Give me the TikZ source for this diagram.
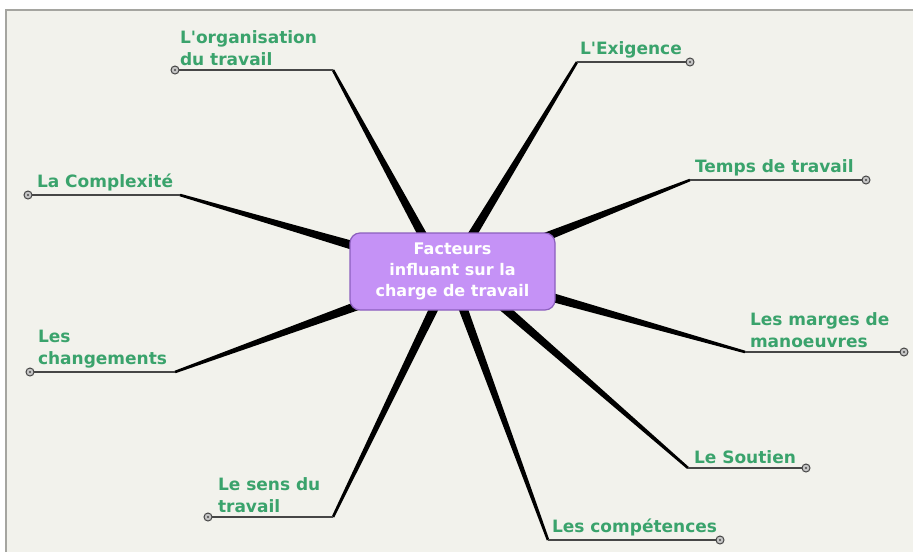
\documentclass[tikz,border=0pt]{standalone}
\usepackage{fontspec}
\setmainfont[Ligatures=TeXOff]{DejaVu Sans}
\usetikzlibrary{calc}
\pgfdeclarelayer{back}
\pgfdeclarelayer{bg}
\pgfsetlayers{back,bg,main}
\definecolor{paper}{RGB}{242,242,236}
\definecolor{framec}{RGB}{165,165,160}
\definecolor{lblgreen}{RGB}{58,163,108}
\definecolor{boxfill}{RGB}{197,146,246}
\definecolor{boxdraw}{RGB}{140,95,190}
\definecolor{thinline}{RGB}{70,70,70}
\tikzset{
  lbl/.style={anchor=south west, text=lblgreen, font=\fontsize{17}{22}\selectfont\bfseries, align=left, inner sep=0pt, outer sep=0pt},
  centerbox/.style={draw=boxdraw, line width=1.2pt, fill=boxfill, rounded corners=10pt, minimum width=205pt, minimum height=77pt, text=white, font=\fontsize{16}{21}\selectfont\bfseries, align=center, inner sep=0pt},
  thick branch/.style={fill=black},
  leaf line/.style={draw=thinline, line width=1.8pt},
  endcirc/.style={circle, draw=thinline, fill=gray!45, line width=1pt, minimum size=8pt, inner sep=0pt},
}
\newcommand\mmbranch[3]{%
  \begin{pgfonlayer}{bg}
  \fill[thick branch] ($(#1)!4.6pt!90:(#2)$) -- ($(#2)!1.3pt!-90:(#1)$) -- ($(#2)!1.3pt!90:(#1)$) -- ($(#1)!4.6pt!-90:(#2)$) -- cycle;
  \draw[leaf line] (#2) -- (#3);
  \end{pgfonlayer}
}
\begin{document}
\begin{tikzpicture}[x=1pt,y=-1pt]
\useasboundingbox (0,0) rectangle (913,552);
\begin{pgfonlayer}{back}
\fill[white] (0,0) rectangle (913,552);
\fill[paper] (6,10) rectangle (913,552);
\draw[framec, line width=2pt] (6,552) -- (6,10) -- (913,10);
\end{pgfonlayer}

\node[centerbox] (fc) at (452.5,271.5) {Facteurs\\influant sur la\\charge de travail};

% coordinates: start (inside box), elbow, end
\coordinate (s1) at (428,245); \coordinate (e1) at (333,70);  \coordinate (t1) at (175,70);
\coordinate (s2) at (466,245); \coordinate (e2) at (577,62);  \coordinate (t2) at (690,62);
\coordinate (s3) at (530,243); \coordinate (e3) at (690,180); \coordinate (t3) at (866,180);
\coordinate (s4) at (365,249); \coordinate (e4) at (180,195); \coordinate (t4) at (28,195);
\coordinate (s5) at (365,303); \coordinate (e5) at (175,372); \coordinate (t5) at (30,372);
\coordinate (s6) at (540,294); \coordinate (e6) at (745,352); \coordinate (t6) at (904,352);
\coordinate (s7) at (495,300); \coordinate (e7) at (688,468); \coordinate (t7) at (806,468);
\coordinate (s8) at (460,300); \coordinate (e8) at (548,540); \coordinate (t8) at (720,540);
\coordinate (s9) at (438,300); \coordinate (e9) at (333,517); \coordinate (t9) at (208,517);

\mmbranch{s1}{e1}{t1}
\mmbranch{s2}{e2}{t2}
\mmbranch{s3}{e3}{t3}
\mmbranch{s4}{e4}{t4}
\mmbranch{s5}{e5}{t5}
\mmbranch{s6}{e6}{t6}
\mmbranch{s7}{e7}{t7}
\mmbranch{s8}{e8}{t8}
\mmbranch{s9}{e9}{t9}

\foreach \i in {1,...,9}{
  \node[endcirc] (c\i) at (t\i) {};
  \fill[thinline] (t\i) circle (1.2pt);
}

\node[lbl] (l1) at (180,66) {L'organisation\\du travail};
\node[lbl] (l2) at (580,58) {L'Exigence};
\node[lbl] (l3) at (695,176) {Temps de travail};
\node[lbl] (l4) at (37,191) {La Complexité};
\node[lbl] (l5) at (38,368) {Les\\changements};
\node[lbl] (l6) at (750,348) {Les marges de\\manoeuvres};
\node[lbl] (l7) at (694,464) {Le Soutien};
\node[lbl] (l8) at (552,536) {Les compétences};
\node[lbl] (l9) at (218,513) {Le sens du\\travail};
\end{tikzpicture}
\end{document}
